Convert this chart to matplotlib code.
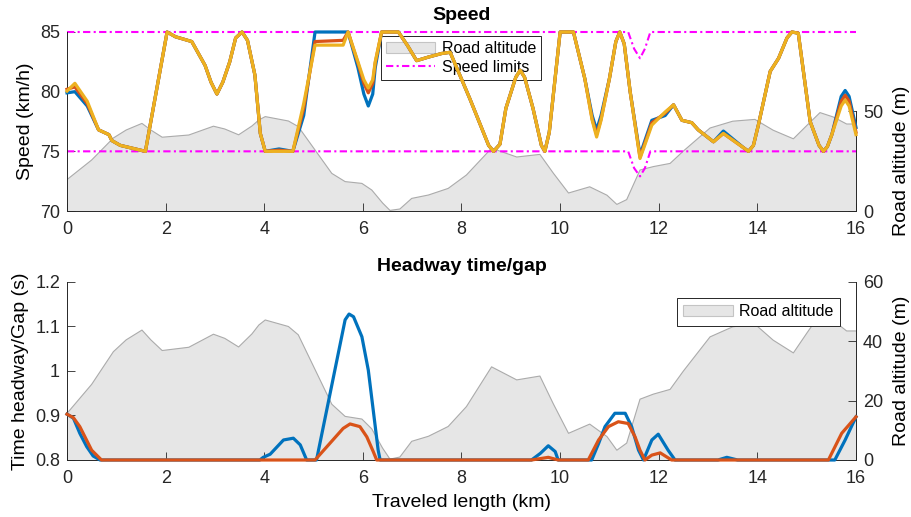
import matplotlib
matplotlib.use('Agg')
import matplotlib.pyplot as plt
from matplotlib.patches import Patch
from matplotlib.lines import Line2D
from matplotlib.ticker import FuncFormatter

plt.rcParams['font.family'] = ['Liberation Sans', 'DejaVu Sans']

# ---------------- data ----------------
alt_km = [0, 0.5, 0.94, 1.2, 1.52, 1.7, 1.93, 2.47, 2.97, 3.2, 3.48, 3.75, 3.89, 4.02,
          4.49, 4.69, 5.03, 5.37, 5.64, 5.98, 6.18, 6.4, 6.55, 6.75, 6.99, 7.33, 7.73,
          8.1, 8.61, 9.12, 9.59, 9.86, 10.17, 10.6, 10.95, 11.15, 11.35, 11.62, 11.89,
          12.23, 12.5, 13.04, 13.5, 13.95, 14.32, 14.73, 15.0, 15.27, 15.54, 15.81, 16.0]
alt_m = [15.7, 25.5, 36.5, 40.5, 43.8, 40.5, 36.9, 38.0, 42.4, 41.0, 38.1, 42.5, 45.5, 47.2,
         45.0, 42.2, 30.5, 18.8, 14.7, 13.8, 10.5, 4.0, 0.3, 1.0, 6.3, 8.0, 11.3,
         18.0, 31.4, 27.0, 28.3, 19.0, 9.0, 12.1, 7.9, 3.3, 5.7, 20.5, 22.2,
         23.8, 30.0, 41.5, 44.9, 45.8, 40.4, 36.1, 42.7, 49.2, 47.0, 43.5, 43.5]

spd_km = [0.0, 0.16, 0.41, 0.64, 0.85, 0.91, 1.08, 1.59, 2.03, 2.2, 2.53, 2.8, 2.92, 3.04, 3.16,
          3.3, 3.42, 3.55, 3.66, 3.81, 3.92, 4.02, 4.3, 4.58, 4.8, 5.03, 5.6, 5.70, 5.9, 6.02,
          6.11, 6.2, 6.25, 6.38, 6.72, 6.9, 7.09, 7.33, 7.6, 7.77, 8.17, 8.55, 8.65, 8.78, 8.9,
          9.1, 9.19, 9.28, 9.45, 9.62, 9.69, 9.78, 10.0, 10.27, 10.5, 10.65, 10.74, 10.83, 11.0,
          11.13, 11.21, 11.3, 11.42, 11.62, 11.86, 12.13, 12.3, 12.47, 12.67, 12.8, 13.11,
          13.31, 13.72, 13.82, 13.92, 14.02, 14.26, 14.43, 14.6, 14.7, 14.83, 15.07, 15.25,
          15.34, 15.42, 15.51, 15.7, 15.78, 15.86, 16.0]
spd_yellow = [80.05, 80.7, 79.2, 76.8, 76.4, 75.9, 75.5, 75.0, 85.0, 84.6, 84.2, 82.2, 80.8, 79.8, 80.8,
              82.5, 84.5, 85.0, 84.3, 81.4, 76.5, 75.0, 75.0, 75.0, 79.0, 83.9, 83.9, 85.0, 82.5, 81.0,
              80.3, 81.0, 82.5, 85.0, 85.0, 83.9, 82.6, 82.9, 83.2, 83.3, 79.4, 75.5, 75.0, 75.6, 78.6,
              81.2, 81.8, 81.2, 78.6, 75.5, 75.0, 76.6, 85.0, 85.0, 81.1, 77.6, 76.2, 77.6, 81.1,
              84.2, 85.0, 84.0, 80.0, 74.4, 77.2, 78.3, 78.9, 77.6, 77.4, 76.8, 75.8,
              76.5, 75.3, 75.0, 75.5, 77.2, 81.7, 82.8, 84.5, 85.0, 84.9, 77.5, 75.5,
              75.0, 75.4, 76.4, 78.8, 79.3, 78.8, 76.4]
spd_red = [80.2, 80.4, 79.0, 76.8, 76.4, 75.9, 75.5, 75.0, 85.0, 84.6, 84.2, 82.2, 80.8, 79.8, 80.8,
           82.5, 84.5, 85.0, 84.3, 81.4, 76.5, 75.0, 75.1, 75.0, 78.6, 84.2, 84.3, 85.0, 82.4, 80.7,
           79.9, 80.7, 82.4, 85.0, 85.0, 83.9, 82.6, 82.9, 83.2, 83.3, 79.4, 75.5, 75.0, 75.6, 78.6,
           81.2, 81.8, 81.2, 78.6, 75.5, 75.0, 76.6, 85.0, 85.0, 81.1, 77.7, 76.4, 77.7, 81.1,
           84.2, 85.0, 84.0, 80.0, 74.5, 77.4, 78.2, 78.9, 77.6, 77.4, 76.8, 75.8,
           76.5, 75.3, 75.0, 75.5, 77.2, 81.7, 82.8, 84.5, 85.0, 84.9, 77.5, 75.5,
           75.0, 75.4, 76.4, 79.2, 79.7, 79.2, 76.6]
spd_blue = [79.9, 80.0, 78.8, 76.8, 76.4, 75.9, 75.5, 75.0, 85.0, 84.6, 84.2, 82.2, 80.8, 79.8, 80.8,
            82.5, 84.5, 85.0, 84.3, 81.4, 76.5, 75.0, 75.2, 75.0, 78.0, 85.0, 85.0, 85.0, 82.0, 79.8,
            78.8, 79.8, 82.0, 85.0, 85.0, 83.9, 82.6, 82.9, 83.2, 83.3, 79.4, 75.5, 75.0, 75.6, 78.6,
            81.2, 81.8, 81.2, 78.6, 75.5, 75.0, 76.6, 85.0, 85.0, 81.1, 78.0, 76.8, 78.0, 81.1,
            84.2, 85.0, 84.0, 80.0, 74.7, 77.6, 78.0, 78.9, 77.6, 77.4, 76.8, 75.8,
            76.7, 75.3, 75.0, 75.5, 77.2, 81.7, 82.8, 84.5, 85.0, 84.9, 77.5, 75.5,
            75.0, 75.4, 76.4, 79.6, 80.1, 79.6, 77.0]

lim_km = [0, 11.38, 11.5, 11.62, 11.72, 11.83, 16]
lim_upper = [85, 85, 83.6, 82.8, 83.6, 85, 85]
lim_lower = [75, 75, 73.6, 72.9, 73.6, 75, 75]

hw_blue_km = [0, 0.13, 0.26, 0.4, 0.53, 0.67, 3.91, 3.98, 4.12, 4.39, 4.59, 4.73, 4.86, 5.06,
              5.64, 5.72, 5.81, 5.98, 6.11, 6.21, 6.31, 6.35, 9.42, 9.6, 9.76, 9.9, 9.96,
              10.64, 10.78, 10.91, 11.11, 11.32, 11.45, 11.59, 11.69, 11.86, 11.99, 12.19,
              12.33, 13.2, 13.38, 13.6, 15.57, 15.78, 16.0]
hw_blue = [0.903, 0.894, 0.86, 0.83, 0.809, 0.80, 0.80, 0.806, 0.813, 0.845, 0.849, 0.834, 0.80, 0.80,
           1.115, 1.128, 1.122, 1.077, 1.002, 0.912, 0.822, 0.80, 0.80, 0.815, 0.832, 0.819, 0.80,
           0.80, 0.837, 0.875, 0.905, 0.905, 0.875, 0.822, 0.80, 0.845, 0.858, 0.822,
           0.80, 0.80, 0.806, 0.80, 0.80, 0.845, 0.897]

hw_red_km = [0, 0.13, 0.26, 0.5, 0.7, 5.03, 5.6, 5.74, 5.94, 6.08, 6.21, 6.28, 9.42, 9.76, 9.96,
             10.57, 10.78, 10.98, 11.18, 11.38, 11.52, 11.62, 11.72, 11.86, 12.03, 12.26,
             15.44, 15.71, 16.0]
hw_red = [0.903, 0.895, 0.875, 0.822, 0.80, 0.80, 0.871, 0.881, 0.875, 0.852, 0.819, 0.80, 0.80, 0.806, 0.80,
          0.80, 0.845, 0.875, 0.886, 0.882, 0.852, 0.822, 0.80, 0.811, 0.816, 0.80,
          0.80, 0.86, 0.897]

x_ticks = [0, 2, 4, 6, 8, 10, 12, 14, 16]
spd_ticks = [70, 75, 80, 85]
hw_ticks = [0.8, 0.9, 1.0, 1.1, 1.2]
alt_ticks_top = [0, 50]
alt_ticks_bot = [0, 20, 40, 60]

# ---------------- style ----------------
C_BLUE = '#0072BD'
C_RED = '#D95319'
C_YEL = '#EDB120'
C_MAG = '#FF00FF'
C_FILL = '#e6e6e6'
C_EDGE = '#ababab'
C_AX = '#262626'
TICK_FS = 13
LAB_FS = 14
LW = 2.3

W, H = 912, 517
fig = plt.figure(figsize=(W / 100, H / 100), dpi=100)


def rect(x0, y0, x1, y1):
    return [x0 / W, 1 - y1 / H, (x1 - x0) / W, (y1 - y0) / H]


def style_axis(ax, pad=7):
    ax.tick_params(direction='in', length=5.5, width=0.6, colors=C_AX, labelsize=TICK_FS, pad=pad)
    for s in ax.spines.values():
        s.set_color(C_AX)
        s.set_linewidth(0.7)


def alt_axis(ax, ylim, ticks):
    ax.fill_between(alt_km, alt_m, 0, facecolor=C_FILL, edgecolor='none', zorder=1)
    ax.plot(alt_km, alt_m, color=C_EDGE, lw=0.8, zorder=2)
    ax.set_xlim(0, 16)
    ax.set_ylim(*ylim)
    ax.set_yticks(ticks)
    ax.set_xticks([])
    for k in ['top', 'left', 'bottom']:
        ax.spines[k].set_visible(False)
    ax.yaxis.tick_right()
    ax.yaxis.set_label_position('right')
    ax.set_facecolor('none')
    style_axis(ax, pad=5)
    ax.set_ylabel('Road altitude (m)', fontsize=LAB_FS, color='black', labelpad=7)


dashdot = (0, (3.5, 1.6, 1.0, 1.6))

# ---------------- top panel ----------------
ax_alt1 = fig.add_axes(rect(67, 111, 856, 211))
alt_axis(ax_alt1, (0, 50), alt_ticks_top)

ax_spd = fig.add_axes(rect(67, 32, 856, 211))
ax_spd.set_facecolor('none')
ax_spd.plot(lim_km, lim_upper, color=C_MAG, lw=1.5, ls=dashdot, clip_on=False, zorder=2)
ax_spd.plot(lim_km, lim_lower, color=C_MAG, lw=1.5, ls=dashdot, clip_on=False, zorder=2)
ax_spd.plot(spd_km, spd_blue, color=C_BLUE, lw=LW, clip_on=False, solid_joinstyle='round', zorder=3)
ax_spd.plot(spd_km, spd_red, color=C_RED, lw=LW, clip_on=False, solid_joinstyle='round', zorder=3)
ax_spd.plot(spd_km, spd_yellow, color=C_YEL, lw=LW, clip_on=False, solid_joinstyle='round', zorder=3)
ax_spd.set_xlim(0, 16)
ax_spd.set_ylim(70, 85)
ax_spd.set_xticks(x_ticks)
ax_spd.set_yticks(spd_ticks)
ax_spd.spines['top'].set_visible(False)
ax_spd.spines['right'].set_visible(False)
style_axis(ax_spd)
ax_spd.tick_params(axis='y', pad=5)
ax_spd.set_ylabel('Speed (km/h)', fontsize=LAB_FS, labelpad=4)
ax_spd.set_title('Speed', fontsize=14, fontweight='bold', pad=9)

h1 = Patch(facecolor=C_FILL, edgecolor='#c4c4c4', lw=0.8)
h2 = Line2D([], [], color=C_MAG, lw=1.5, ls=dashdot)
leg = ax_spd.legend([h1, h2], ['Road altitude', 'Speed limits'], loc='upper left',
                    bbox_to_anchor=(0.398, 0.978), fontsize=11.5, frameon=True,
                    fancybox=False, framealpha=1, edgecolor=C_AX, handlelength=3.1,
                    handletextpad=0.4, borderpad=0.3, labelspacing=0.25, borderaxespad=0)
leg.get_frame().set_linewidth(0.7)
leg.set_zorder(1.5)

# ---------------- bottom panel ----------------
ax_alt2 = fig.add_axes(rect(67, 282, 856, 460))
alt_axis(ax_alt2, (0, 60), alt_ticks_bot)

ax_hw = fig.add_axes(rect(67, 282, 856, 460))
ax_hw.set_facecolor('none')
ax_hw.plot(hw_blue_km, hw_blue, color=C_BLUE, lw=LW, clip_on=False, solid_joinstyle='round', zorder=3)
ax_hw.plot(hw_red_km, hw_red, color=C_RED, lw=LW, clip_on=False, solid_joinstyle='round', zorder=3)
ax_hw.set_xlim(0, 16)
ax_hw.set_ylim(0.8, 1.2)
ax_hw.set_xticks(x_ticks)
ax_hw.set_yticks(hw_ticks)
ax_hw.yaxis.set_major_formatter(FuncFormatter(lambda v, p: ('%g' % round(v, 2))))
ax_hw.spines['top'].set_visible(False)
ax_hw.spines['right'].set_visible(False)
style_axis(ax_hw)
ax_hw.tick_params(axis='y', pad=5)
ax_hw.set_ylabel('Time headway/Gap (s)', fontsize=LAB_FS, labelpad=4)
ax_hw.set_xlabel('Traveled length (km)', fontsize=LAB_FS, labelpad=5)
ax_hw.set_title('Headway time/gap', fontsize=14, fontweight='bold', pad=8)

leg2 = ax_hw.legend([Patch(facecolor=C_FILL, edgecolor='#c4c4c4', lw=0.8)], ['Road altitude'],
                    loc='upper left', bbox_to_anchor=(0.773, 0.91), fontsize=11.5, frameon=True,
                    fancybox=False, framealpha=1, edgecolor=C_AX, handlelength=3.1,
                    handletextpad=0.4, borderpad=0.4, borderaxespad=0)
leg2.get_frame().set_linewidth(0.7)

fig.savefig('out.png', dpi=100)
